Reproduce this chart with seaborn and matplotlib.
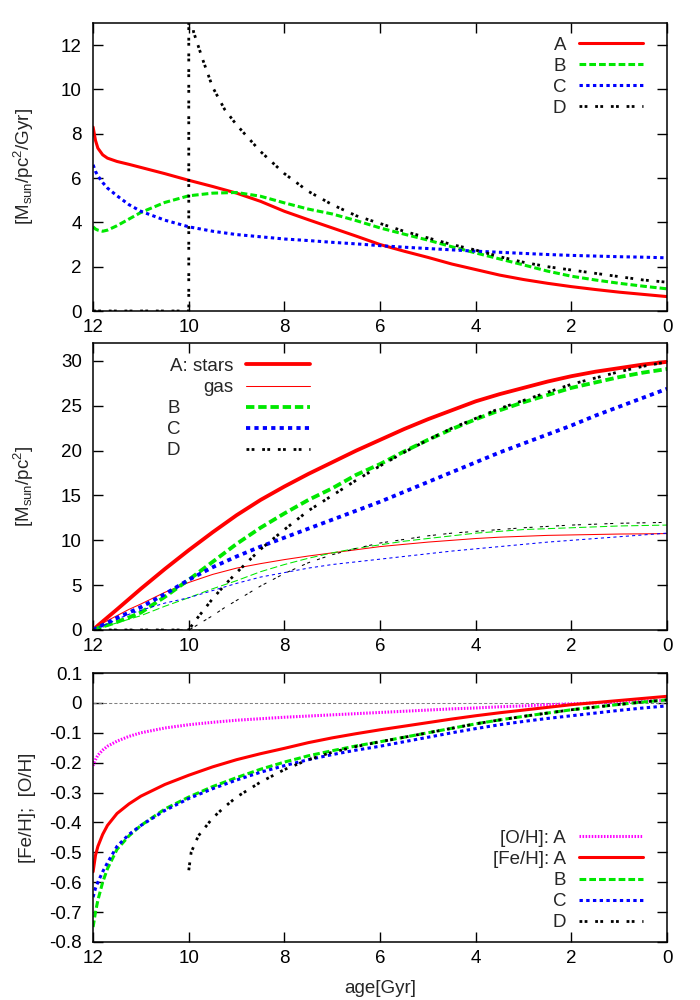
import matplotlib

matplotlib.use("Agg")
import matplotlib.pyplot as plt
import seaborn as sns
from matplotlib.ticker import FuncFormatter

# shared age grid [Gyr] for most curves (12 = birth, 0 = today)
AGE = [12, 11.95, 11.9, 11.8, 11.7, 11.5, 11.25, 11, 10.5, 10, 9.5, 9, 8.5, 8, 7.5,
       7, 6.5, 6, 5.5, 5, 4.5, 4, 3.5, 3, 2.5, 2, 1.5, 1, 0.5, 0]

# --- panel 1: star formation rate [Msun/pc^2/Gyr]
SFR_A = [8.3, 7.7, 7.35, 7.05, 6.9, 6.75, 6.62, 6.48, 6.2, 5.9, 5.62, 5.32, 4.95, 4.5, 4.12,
         3.75, 3.38, 3.0, 2.7, 2.42, 2.12, 1.87, 1.62, 1.42, 1.25, 1.1, 0.97, 0.85, 0.75, 0.65]
SFR_B = [3.8, 3.7, 3.65, 3.6, 3.65, 3.85, 4.15, 4.45, 4.9, 5.2, 5.32, 5.35, 5.18, 4.88, 4.6,
         4.38, 4.08, 3.75, 3.47, 3.2, 2.9, 2.62, 2.35, 2.08, 1.8, 1.57, 1.4, 1.25, 1.12, 1.0]
SFR_C = [6.6, 6.3, 6.1, 5.8, 5.55, 5.2, 4.8, 4.5, 4.1, 3.8, 3.6, 3.45, 3.35, 3.25, 3.18,
         3.1, 3.03, 2.95, 2.88, 2.82, 2.76, 2.7, 2.65, 2.6, 2.55, 2.51, 2.48, 2.45, 2.43, 2.4]
SFR_D_AGE = [12, 10, 10, 9.9, 9.7, 9.5, 9.25, 9, 8.5, 8, 7.5, 7, 6.5, 6, 5.5, 5, 4.5, 4,
             3.5, 3, 2.5, 2, 1.5, 1, 0.5, 0]
SFR_D = [0, 0, 14.5, 12.6, 11.3, 10.1, 9.1, 8.4, 7.2, 6.2, 5.4, 4.8, 4.3, 3.95, 3.6, 3.3,
         3.0, 2.75, 2.45, 2.2, 2.0, 1.85, 1.7, 1.55, 1.4, 1.3]

# --- panel 2: surface densities of stars and gas [Msun/pc^2]
STARS_A = [0, 0.25, 0.5, 0.95, 1.4, 2.3, 3.45, 4.6, 6.8, 8.9, 10.9, 12.8, 14.5, 16.0, 17.4,
           18.7, 20.0, 21.2, 22.4, 23.5, 24.5, 25.5, 26.3, 27.0, 27.7, 28.3, 28.8, 29.2, 29.6, 29.9]
GAS_A = [0, 0.2, 0.4, 0.75, 1.05, 1.6, 2.3, 2.9, 4.2, 5.3, 6.2, 6.9, 7.4, 7.85, 8.25,
         8.6, 8.95, 9.3, 9.55, 9.8, 10.0, 10.2, 10.35, 10.45, 10.55, 10.6, 10.65, 10.7, 10.72, 10.75]
STARS_B = [0, 0.1, 0.2, 0.4, 0.55, 0.9, 1.4, 1.95, 3.7, 5.6, 7.6, 9.6, 11.4, 13.0, 14.5,
           15.8, 17.3, 18.5, 19.9, 21.2, 22.4, 23.5, 24.5, 25.4, 26.2, 27.0, 27.6, 28.2, 28.7, 29.1]
GAS_B = [0, 0.08, 0.15, 0.3, 0.45, 0.8, 1.2, 1.6, 2.65, 3.6, 4.6, 5.5, 6.5, 7.3, 8.0,
         8.6, 9.1, 9.5, 9.9, 10.2, 10.5, 10.8, 11.0, 11.2, 11.3, 11.4, 11.5, 11.6, 11.65, 11.7]
STARS_C = [0, 0.15, 0.3, 0.55, 0.8, 1.35, 1.95, 2.55, 4.0, 5.6, 7.0, 8.2, 9.3, 10.3, 11.3,
           12.3, 13.3, 14.3, 15.4, 16.5, 17.6, 18.7, 19.8, 20.8, 21.8, 22.8, 23.9, 24.9, 25.9, 26.9]
GAS_C = [0, 0.12, 0.25, 0.5, 0.7, 1.2, 1.75, 2.2, 3.0, 3.6, 4.4, 5.2, 5.9, 6.4, 6.9,
         7.3, 7.6, 7.9, 8.2, 8.5, 8.8, 9.05, 9.3, 9.55, 9.8, 10.0, 10.2, 10.4, 10.6, 10.8]
D_AGE = [12, 10, 9.9, 9.75, 9.5, 9.25, 9, 8.5, 8, 7.5, 7, 6.5, 6, 5.5, 5, 4.5, 4, 3.5, 3,
         2.5, 2, 1.5, 1, 0.5, 0]
STARS_D = [0, 0, 0.8, 1.8, 3.5, 5.0, 6.4, 9.0, 11.2, 13.3, 15.0, 16.7, 18.3, 19.8, 21.2,
           22.5, 23.6, 24.7, 25.6, 26.5, 27.4, 28.1, 28.8, 29.4, 29.9]
GAS_D = [0, 0, 0.3, 0.8, 1.6, 2.5, 3.3, 4.9, 6.3, 7.5, 8.4, 9.1, 9.7, 10.1, 10.5,
         10.8, 11.0, 11.2, 11.4, 11.55, 11.7, 11.8, 11.9, 11.95, 12.0]

# --- panel 3: abundances
OH_A = [-0.21, -0.19, -0.175, -0.158, -0.145, -0.128, -0.112, -0.10, -0.084, -0.073, -0.065,
        -0.058, -0.053, -0.048, -0.044, -0.040, -0.036, -0.032, -0.028, -0.024, -0.02, -0.017,
        -0.013, -0.01, -0.006, -0.003, 0.0, 0.003, 0.006, 0.009]
FEH_A = [-0.565, -0.51, -0.48, -0.44, -0.41, -0.37, -0.338, -0.312, -0.273, -0.242, -0.214,
         -0.19, -0.17, -0.152, -0.133, -0.117, -0.103, -0.09, -0.078, -0.066, -0.054, -0.043,
         -0.033, -0.024, -0.015, -0.006, 0.001, 0.008, 0.015, 0.022]
FEH_B = [-0.75, -0.70, -0.66, -0.60, -0.555, -0.49, -0.445, -0.41, -0.355, -0.315, -0.28,
         -0.25, -0.222, -0.198, -0.177, -0.16, -0.144, -0.13, -0.115, -0.1, -0.085, -0.07,
         -0.057, -0.045, -0.034, -0.023, -0.014, -0.005, 0.003, 0.01]
FEH_C = [-0.65, -0.62, -0.60, -0.565, -0.535, -0.48, -0.44, -0.41, -0.36, -0.32, -0.287,
         -0.258, -0.232, -0.21, -0.19, -0.173, -0.158, -0.145, -0.13, -0.115, -0.1, -0.086,
         -0.073, -0.062, -0.052, -0.043, -0.034, -0.025, -0.017, -0.01]
FEH_D_AGE = [10, 9.95, 9.8, 9.5, 9.25, 9, 8.5, 8, 7.5, 7, 6.5, 6, 5.5, 5, 4.5, 4, 3.5, 3,
             2.5, 2, 1.5, 1, 0.5, 0]
FEH_D = [-0.56, -0.50, -0.445, -0.385, -0.348, -0.315, -0.265, -0.223, -0.19, -0.165, -0.146,
         -0.13, -0.115, -0.1, -0.085, -0.07, -0.057, -0.045, -0.034, -0.023, -0.014, -0.005,
         0.003, 0.01]

XTICKS = [12, 10, 8, 6, 4, 2, 0]

RED, GREEN, BLUE, MAGENTA, BLACK = "#ff0000", "#00e800", "#0000ff", "#ff00ff", "#000000"
THICK, THIN = 2.2, 0.75
FS = 13.5
# gnuplot-like dash patterns (in units of line width)
LS_B = (0, (2.2, 1.0))
LS_C = (0, (1.1, 1.1))
LS_D = (0, (1.0, 0.85, 1.0, 2.8))
LS_O = (0, (0.5, 0.5))
# thin versions (absolute, since thin width ~1 px)
LS_B_THIN = (0, (7, 3))
LS_C_THIN = (0, (3, 3))
LS_D_THIN = (0, (3, 2.5, 3, 7))


def draw(ax, x, y, color, lw, ls="-"):
    sns.lineplot(x=x, y=y, ax=ax, color=color, linewidth=lw, linestyle=ls,
                 estimator=None, sort=False, legend=False)
    line = ax.lines[-1]
    line.set_dash_capstyle("butt")
    return line


def style_axis(ax, ylim, yticks):
    ax.set_xlim(12, 0)
    ax.set_ylim(*ylim)
    ax.set_xticks(XTICKS)
    ax.set_yticks(yticks)
    ax.tick_params(direction="in", top=True, right=True, length=7, width=1.0,
                   labelsize=FS, colors="black")
    ax.tick_params(axis="x", pad=6)
    ax.tick_params(axis="y", pad=8)
    for sp in ax.spines.values():
        sp.set_linewidth(1.1)
        sp.set_color("black")
    ax.grid(False)


def legend(ax, handles, labels, loc, anchor):
    ax.legend(handles, labels, loc=loc, bbox_to_anchor=anchor, frameon=False,
              markerfirst=False, fontsize=FS, handlelength=3.4, handletextpad=0.7,
              labelspacing=0.21, borderaxespad=0, borderpad=0)


def main() -> None:
    sns.set_theme(style="ticks")
    plt.rcParams["font.family"] = ["Liberation Sans", "DejaVu Sans"]
    plt.rcParams["mathtext.default"] = "regular"
    plt.rcParams["axes.unicode_minus"] = False

    fig = plt.figure(figsize=(7, 10), dpi=100)
    ax1 = fig.add_axes([0.133, 0.689, 0.820, 0.288])
    ax2 = fig.add_axes([0.133, 0.370, 0.820, 0.287])
    ax3 = fig.add_axes([0.133, 0.058, 0.820, 0.269])

    # --- panel 1
    h = [
        draw(ax1, AGE, SFR_A, RED, THICK),
        draw(ax1, AGE, SFR_B, GREEN, THICK, LS_B),
        draw(ax1, AGE, SFR_C, BLUE, THICK, LS_C),
        draw(ax1, SFR_D_AGE, SFR_D, BLACK, 2.0, LS_D),
    ]
    style_axis(ax1, (0, 13), [0, 2, 4, 6, 8, 10, 12])
    ax1.set_ylabel("[M$_{sun}$/pc$^2$/Gyr]", fontsize=FS)
    legend(ax1, h, ["A", "B", "C", "D"], "upper right", (0.958, 0.953))

    # --- panel 2
    h = [
        draw(ax2, AGE, STARS_A, RED, THICK * 1.25),
        draw(ax2, AGE, GAS_A, RED, THIN),
        draw(ax2, AGE, STARS_B, GREEN, THICK * 1.25, LS_B),
        draw(ax2, AGE, STARS_C, BLUE, THICK * 1.25, LS_C),
        draw(ax2, D_AGE, STARS_D, BLACK, 2.0, LS_D),
    ]
    draw(ax2, AGE, GAS_B, GREEN, THIN, LS_B_THIN)
    draw(ax2, AGE, GAS_C, BLUE, THIN, LS_C_THIN)
    draw(ax2, D_AGE, GAS_D, BLACK, THIN, LS_D_THIN)
    style_axis(ax2, (0, 32), [0, 5, 10, 15, 20, 25, 30])
    ax2.set_ylabel("[M$_{sun}$/pc$^2$]", fontsize=FS)
    pad = " " * 10
    legend(ax2, h, ["A: stars", "gas", "B" + pad, "C" + pad, "D" + pad],
           "upper right", (0.378, 0.948))

    # --- panel 3
    ax3.axhline(0, color="#808080", lw=0.75, ls=(0, (3, 2)))
    h = [
        draw(ax3, AGE, OH_A, MAGENTA, THICK, LS_O),
        draw(ax3, AGE, FEH_A, RED, THICK),
        draw(ax3, AGE, FEH_B, GREEN, THICK, LS_B),
        draw(ax3, AGE, FEH_C, BLUE, THICK, LS_C),
        draw(ax3, FEH_D_AGE, FEH_D, BLACK, 2.0, LS_D),
    ]
    style_axis(ax3, (-0.8, 0.1), [-0.8, -0.7, -0.6, -0.5, -0.4, -0.3, -0.2, -0.1, 0, 0.1])
    ax3.yaxis.set_major_formatter(FuncFormatter(lambda v, _: f"{round(v, 2):g}"))
    ax3.set_ylabel("[Fe/H];  [O/H]", fontsize=FS)
    ax3.set_xlabel("age[Gyr]", fontsize=FS, labelpad=9)
    legend(ax3, h, ["[O/H]: A", "[Fe/H]: A", "B", "C", "D"], "lower right", (0.958, 0.040))

    for ax in (ax1, ax2, ax3):
        ax.yaxis.set_label_coords(-0.1, 0.5)

    fig.savefig("out.png", dpi=100)
    plt.close(fig)


if __name__ == "__main__":
    main()
